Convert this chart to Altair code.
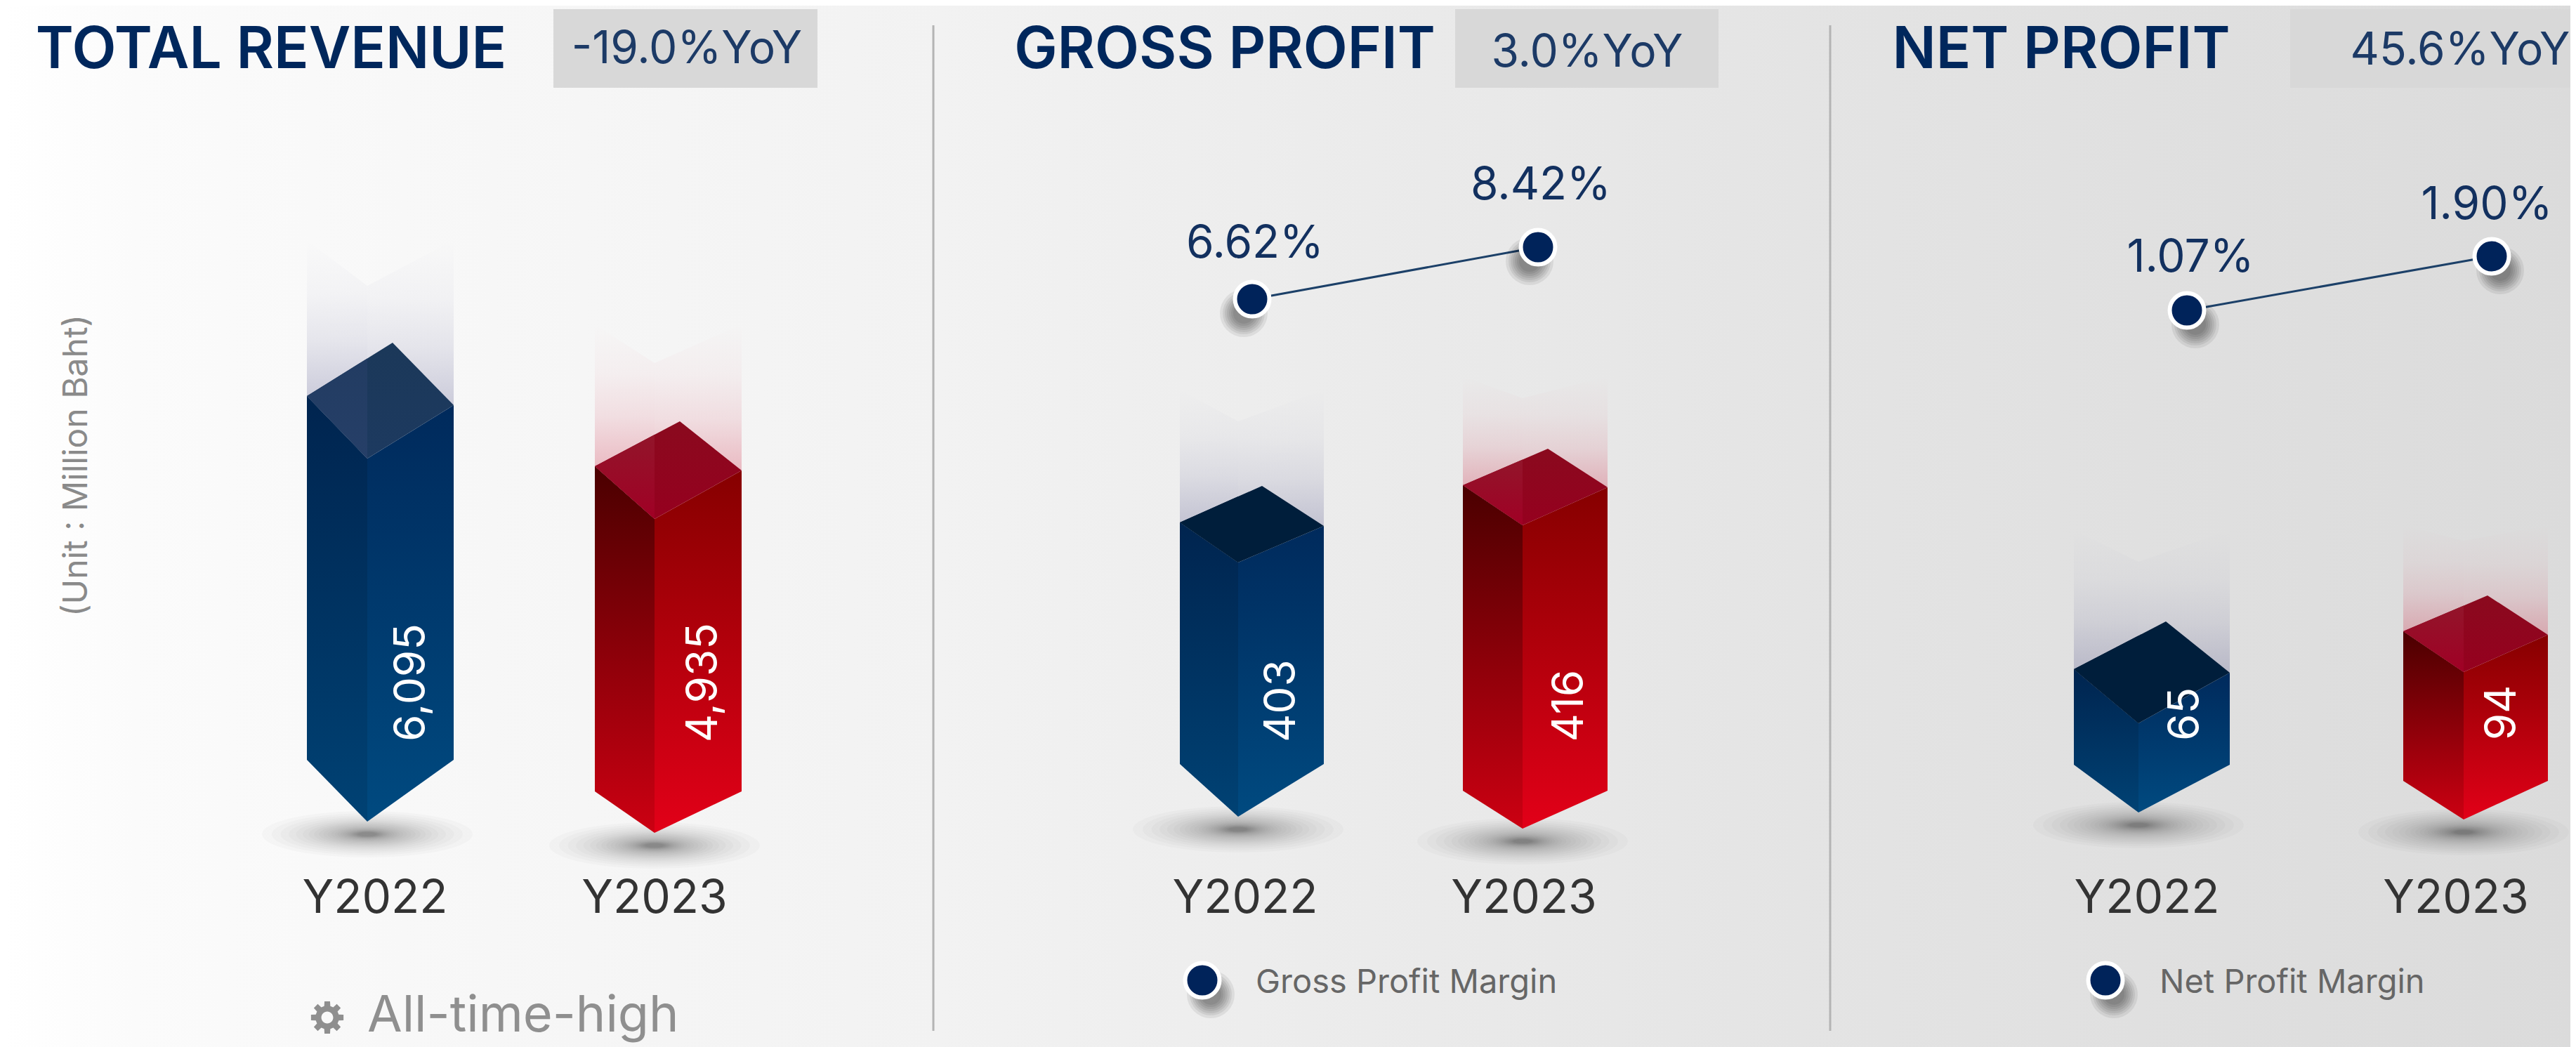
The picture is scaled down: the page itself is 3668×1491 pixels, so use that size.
import altair as alt
import numpy as np
import pandas as pd

# ---- values ----
panels = ["TOTAL REVENUE", "GROSS PROFIT", "NET PROFIT"]
yoy = ["-19.0%YoY", "3.0%YoY", "45.6%YoY"]
years = ["Y2022", "Y2023"]
revenue = [6095, 4935]
gross_profit = [403, 416]
net_profit = [65, 94]
gross_margin = [6.62, 8.42]
net_margin = [1.07, 1.90]
legend_names = ["Gross Profit Margin", "Net Profit Margin"]
unit_label = "(Unit : Million Baht)"
footer_label = "All-time-high"

# ---- layout of the infographic (canvas units) ----
W, H = 3660, 1491
bar_base = [1089.4, 2387.0, 1074.0]      # where each panel's value scale starts
bar_per_unit = [0.0862, 4.077, 1.862]    # drawn height per unit in each panel
margin_base = [698.1, 541.3]
margin_per_unit = [41.1, 92.8]
face_left = [437, 847, 1680, 2083, 2953, 3422]
face_mid = [523, 932, 1763, 2168, 3045, 3508]
face_right = [646, 1056, 1885, 2289, 3175, 3628]
apex_x = [559, 968, 1797, 2204, 3084, 3542]
apex_rise = [76, 64, 52, 52, 68, 51]
right_drop = [13, 6, 5, 3, 5, 5]
front_drop = [89, 75, 57, 57, 77, 58]
foot = [1082, 1127, 1088, 1126, 1089, 1112]
tip = [1170, 1186, 1163, 1180, 1157, 1167]
ghost_top = [342, 462, 555, 536, 755, 748]
ghost_notch = [407, 517, 600, 567, 800, 770]
value_label_x = [586, 1002, 1825, 2235, 3112, 3563]
value_label_y = [972, 972, 998, 1005, 1017, 1015]
year_label_x = [534, 932, 1773, 2170, 3057, 3497]
title_x = [386, 1744, 2935]
box_x = [788, 2072, 3261]
box_x2 = [1164, 2447, 3660]
yoy_x = [978, 2260, 3503]
yoy_y = [71, 76, 73]
margin_x = [1783, 2190, 3114, 3548]
margin_label_x = [1787, 2194, 3119, 3541]
margin_label_gap = [78, 87, 74, 72]
shadow_dx = [-12, -12, 12, 12]
legend_x = [1712, 2998]
legend_text_x = [1788, 3075]
separators = [1329, 2606]

NAVY = "#00275c"
values = revenue + gross_profit + net_profit
bar_panel = [0, 0, 1, 1, 2, 2]
color_kind = [0, 1, 0, 1, 0, 1]
top_left_colors = [["#223c62", "#263f68"], ["#92152a", "#a00025"], ["#001e3b", "#001e3b"],
                   ["#92152a", "#a00025"], ["#001e3b", "#001e3b"], ["#92152a", "#a00025"]]
top_right_colors = [["#1b3859", "#1d3a60"], ["#8a0a1e", "#96001f"], ["#001e3b", "#001e3b"],
                    ["#8a0a1e", "#96001f"], ["#001e3b", "#001e3b"], ["#8a0a1e", "#96001f"]]
left_stops = [["#00244f", "#004274"], ["#4a0000", "#cc0012"]]
right_stops = [["#002a5c", "#004a80"], ["#860000", "#e20018"]]
ghost_rgb = [["rgba(70,70,130,0)", "rgba(70,70,130,0.035)", "rgba(70,70,130,0.11)", "rgba(70,70,130,0.25)"],
             ["rgba(205,30,60,0)", "rgba(205,30,60,0.035)", "rgba(205,30,60,0.11)", "rgba(205,30,60,0.27)"]]

xs = alt.Scale(domain=[8, W], nice=False, zero=False)
ys = alt.Scale(domain=[H, 8], nice=False, zero=False)
X = alt.X("x:Q", scale=xs, axis=None)
X2 = alt.X2("x2:Q")
Y = alt.Y("y:Q", scale=ys, axis=None)
Y2 = alt.Y2("y2:Q")


def vgrad(c):
    offs = [0, 0.35, 0.65, 1] if len(c) == 4 else [0, 1]
    return alt.Gradient(gradient="linear", x1=0, y1=0, x2=0, y2=1,
                        stops=[alt.GradientStop(color=a, offset=o) for a, o in zip(c, offs)])


def poly(xp, upper, lower, fill):
    d = pd.DataFrame({"x": xp, "y": upper, "y2": lower})
    return alt.Chart(d).mark_area(color=fill, orient="vertical", interpolate="linear", line=False, opacity=1).encode(
        x=X, y=alt.Y("y:Q", scale=ys, axis=None, stack=None), y2=Y2)


def text(rows, size, color, weight=400, font="Inter", angle=0, align="center"):
    return alt.Chart(pd.DataFrame(rows)).mark_text(
        fontSize=size, color=color, fontWeight=weight, font=font, angle=angle, align=align, baseline="middle"
    ).encode(x=X, y=Y, text="t:N")


def gear_path():
    pts = []
    for t in range(8):
        c = t * np.pi / 4
        for da, r in [(-0.26, 0.72), (-0.17, 1.0), (0.17, 1.0), (0.26, 0.72)]:
            pts.append((r * np.cos(c + da), r * np.sin(c + da)))
    outer = "M" + "L".join(f"{a:.3f},{b:.3f}" for a, b in pts) + "Z"
    hole = "M0.36,0A0.36,0.36,0,1,0,-0.36,0A0.36,0.36,0,1,0,0.36,0Z"
    return outer + hole


layers = []

# page background
bg = alt.Gradient(gradient="linear", x1=0, y1=0, x2=1, y2=0, stops=[
    alt.GradientStop(color="#ffffff", offset=0),
    alt.GradientStop(color="#fbfbfb", offset=0.05),
    alt.GradientStop(color="#f2f2f2", offset=0.365),
    alt.GradientStop(color="#e4e4e4", offset=0.70),
    alt.GradientStop(color="#dbdbdb", offset=1),
])
layers.append(alt.Chart(pd.DataFrame({"x": [8], "x2": [W], "y": [8], "y2": [H]})).mark_rect(color=bg).encode(
    x=X, x2=X2, y=Y, y2=Y2))

# YoY boxes and separators
layers.append(alt.Chart(pd.DataFrame({"x": box_x, "x2": box_x2, "y": [13] * 3, "y2": [125] * 3}))
              .mark_rect(color="#d8d8d8").encode(x=X, x2=X2, y=Y, y2=Y2))
layers.append(alt.Chart(pd.DataFrame({"x": separators, "y": [36, 36], "y2": [1468, 1468]}))
              .mark_rule(color="#b4b4b4", strokeWidth=3).encode(x=X, y=Y, y2=Y2))

# soft shadows under the bar tips
oval = "M-1,0A1,0.22,0,1,1,1,0A1,0.22,0,1,1,-1,0Z"
spread = [300, 272, 247, 224, 203, 184, 167, 152, 138, 125, 113, 103, 93, 85, 77, 70, 63, 57, 52, 47, 43, 39, 35, 32, 29, 26]
rows = [{"x": face_mid[i], "y": tip[i] + 18, "s": d * d} for i in range(6) for d in spread]
layers.append(alt.Chart(pd.DataFrame(rows)).mark_point(shape=oval, filled=True, color="#000000", opacity=0.02, strokeWidth=0)
              .encode(x=X, y=Y, size=alt.Size("s:Q", scale=None, legend=None)))

# bars
for i in range(6):
    p = bar_panel[i]
    k = color_kind[i]
    xl, xc, xr, xa = face_left[i], face_mid[i], face_right[i], apex_x[i]
    yl = bar_base[p] - bar_per_unit[p] * values[i]
    ya = yl - apex_rise[i]
    yr = yl + right_drop[i]
    yb = yl + front_drop[i]
    # fading reflection above the bar
    layers.append(poly([xl, xc], [ghost_top[i], ghost_notch[i]], [yl, yl], vgrad(ghost_rgb[k])))
    layers.append(poly([xc, xr], [ghost_notch[i], ghost_top[i]], [yr, yr], vgrad(ghost_rgb[k])))
    # two visible faces
    layers.append(poly([xl, xc], [yl, yb], [foot[i], tip[i]], vgrad(left_stops[k])))
    layers.append(poly([xc, xr], [yb, yr], [tip[i], foot[i]], vgrad(right_stops[k])))
    # top rhombus: whole shape, then its left part over it
    up = lambda q: float(np.interp(q, [xl, xa, xr], [yl, ya, yr]))
    lo = lambda q: float(np.interp(q, [xl, xc, xr], [yl, yb, yr]))
    xp = [xl, xc, xa, xr]
    layers.append(poly(xp, [up(q) for q in xp], [lo(q) for q in xp], vgrad(top_right_colors[i])))
    layers.append(poly([xl, xc], [yl, up(xc)], [yl, yb], vgrad(top_left_colors[i])))

# margin lines
all_margin = gross_margin + net_margin
margin_y = [margin_base[j // 2] - margin_per_unit[j // 2] * all_margin[j] for j in range(4)]
for a, b in [(0, 1), (2, 3)]:
    layers.append(alt.Chart(pd.DataFrame({"x": [margin_x[a], margin_x[b]], "y": [margin_y[a], margin_y[b]]}))
                  .mark_line(color="#1c4068", strokeWidth=3).encode(x=X, y=Y))

dot_x = margin_x + legend_x
dot_y = margin_y + [1396, 1396]
dot_dx = shadow_dx + [12, 12]
rows = [{"x": dot_x[j] + dot_dx[j], "y": dot_y[j] + 20, "s": d * d} for j in range(6) for d in [68, 60, 54, 48, 42, 36, 30]]
layers.append(alt.Chart(pd.DataFrame(rows)).mark_circle(color="#000000", opacity=0.07)
              .encode(x=X, y=Y, size=alt.Size("s:Q", scale=None, legend=None)))
layers.append(alt.Chart(pd.DataFrame({"x": dot_x, "y": dot_y}))
              .mark_point(filled=True, shape="circle", size=2400, fill="#00235a", stroke="#ffffff", strokeWidth=6, opacity=1)
              .encode(x=X, y=Y))

# all text
layers.append(text([{"x": title_x[i], "y": 72, "t": panels[i]} for i in range(3)], 82, NAVY, 600))
layers.append(text([{"x": yoy_x[i], "y": yoy_y[i], "t": yoy[i]} for i in range(3)], 64, "#1c3a66"))
layers.append(text([{"x": year_label_x[i], "y": 1280, "t": years[i % 2]} for i in range(6)], 66, "#333333"))
layers.append(text([{"x": value_label_x[i], "y": value_label_y[i], "t": f"{values[i]:,}"} for i in range(6)],
                   62, "#ffffff", angle=270))
layers.append(text([{"x": margin_label_x[j], "y": margin_y[j] - margin_label_gap[j], "t": f"{all_margin[j]:.2f}%"} for j in range(4)],
                   64, "#12305f"))
layers.append(text([{"x": legend_text_x[j], "y": 1400, "t": legend_names[j]} for j in range(2)], 47, "#666666", align="left"))
layers.append(text([{"x": 110, "y": 663, "t": unit_label}], 48, "#8a8a8a", angle=270))
layers.append(text([{"x": 523, "y": 1447, "t": footer_label}], 72, "#8f8f8f", align="left"))
layers.append(alt.Chart(pd.DataFrame({"x": [466], "y": [1449]}))
              .mark_point(shape=gear_path(), filled=True, size=2200, color="#8f8f8f", opacity=1, strokeWidth=0)
              .encode(x=X, y=Y))

chart = alt.layer(*layers).properties(width=W - 8, height=H - 8, padding=0).configure_view(stroke=None)
chart.save("out.html", embed_options={"renderer": "svg", "actions": False})
